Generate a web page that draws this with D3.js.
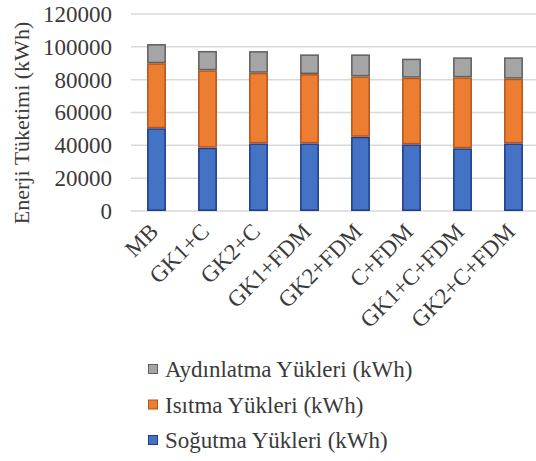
<!DOCTYPE html>
<html>
<head>
<meta charset="utf-8">
<script src="https://cdn.jsdelivr.net/npm/d3@7"></script>
<style>
  html, body { margin: 0; padding: 0; background: #fff; }
  svg { display: block; }
  svg text { font-family: "Liberation Serif", Tinos, "Noto Serif", "DejaVu Serif", "Times New Roman", Times, serif; fill: #3a3a3a; }
</style>
</head>
<body>
<svg id="chart" width="536" height="461"></svg>
<script>
// Scenario categories
const categories = ["MB", "GK1+C", "GK2+C", "GK1+FDM", "GK2+FDM", "C+FDM", "GK1+C+FDM", "GK2+C+FDM"];

// Series values (kWh), stacked bottom to top
const sogutma = [50400, 38600, 41200, 41200, 45200, 40600, 38200, 41200];
const isitma = [39600, 47100, 43000, 42200, 36800, 40600, 43200, 39400];
const aydinlatma = [11700, 11800, 13200, 12000, 13400, 11600, 12200, 13000];

const seriesNames = ["Soğutma Yükleri (kWh)", "Isıtma Yükleri (kWh)", "Aydınlatma Yükleri (kWh)"];
const yTicks = [0, 20000, 40000, 60000, 80000, 100000, 120000];
const yTitle = "Enerji Tüketimi (kWh)";

const fills = ["#4472c4", "#ed7d31", "#a5a5a5"];
const strokes = ["#1f3b8a", "#b5541c", "#5f5f5f"];

const svg = d3.select("#chart");
const FONT = 23;

const x = d3.scaleBand().domain(categories).range([131, 539]).paddingInner(0.63).paddingOuter(0.315);
const y = d3.scaleLinear().domain([0, 120000]).range([211, 14]);

const rows = categories.map((c, i) => ({
  cat: c,
  "Soğutma Yükleri (kWh)": sogutma[i],
  "Isıtma Yükleri (kWh)": isitma[i],
  "Aydınlatma Yükleri (kWh)": aydinlatma[i]
}));
const stacked = d3.stack().keys(seriesNames)(rows);

// Gridlines
svg.append("g")
  .selectAll("line")
  .data(yTicks)
  .join("line")
  .attr("x1", 131).attr("x2", 536)
  .attr("y1", d => y(d)).attr("y2", d => y(d))
  .attr("stroke", "#d9d9d9").attr("stroke-width", 1.5);

// Y axis labels
const yAxis = d3.axisLeft(y).tickValues(yTicks).tickFormat(d3.format("d")).tickSize(0).tickPadding(0);
const yg = svg.append("g").attr("transform", "translate(112,0)").call(yAxis)
  .attr("font-family", null).attr("font-size", null);
yg.select(".domain").remove();
yg.selectAll("text").attr("font-size", FONT).attr("fill", null);

// Y axis title
svg.append("text")
  .attr("transform", "translate(29,123) rotate(-90)")
  .attr("text-anchor", "middle")
  .attr("font-size", 22)
  .text(yTitle);

// Bars
svg.append("g")
  .selectAll("g")
  .data(stacked)
  .join("g")
  .attr("fill", (d, i) => fills[i])
  .attr("stroke", (d, i) => strokes[i])
  .selectAll("rect")
  .data(d => d)
  .join("rect")
  .attr("x", d => x(d.data.cat) + 0.75)
  .attr("width", x.bandwidth() - 1.5)
  .attr("y", d => y(d[1]) + 0.75)
  .attr("height", d => Math.max(0, y(d[0]) - y(d[1]) - 1.5))
  .attr("stroke-width", 1.5);

// X axis labels, rotated
const xAxis = d3.axisBottom(x).tickSize(0).tickPadding(0);
const xg = svg.append("g").attr("transform", "translate(0,211)").call(xAxis)
  .attr("font-family", null).attr("font-size", null);
xg.select(".domain").remove();
xg.selectAll("text")
  .attr("font-size", FONT)
  .attr("fill", null)
  .attr("text-anchor", "end")
  .attr("dy", null)
  .attr("y", 0)
  .attr("transform", "translate(3,22) rotate(-45)");

// Legend (top series first)
const legendOrder = [2, 1, 0];
const lg = svg.append("g");
legendOrder.forEach((si, k) => {
  const cy = 369 + k * 35.5;
  lg.append("rect")
    .attr("x", 148.5).attr("y", cy - 4.5)
    .attr("width", 9).attr("height", 9)
    .attr("fill", fills[si]).attr("stroke", strokes[si]).attr("stroke-width", 1);
  lg.append("text")
    .attr("x", 165).attr("y", cy)
    .attr("dy", "0.35em")
    .attr("font-size", FONT)
    .text(seriesNames[si]);
});
</script>
</body>
</html>
